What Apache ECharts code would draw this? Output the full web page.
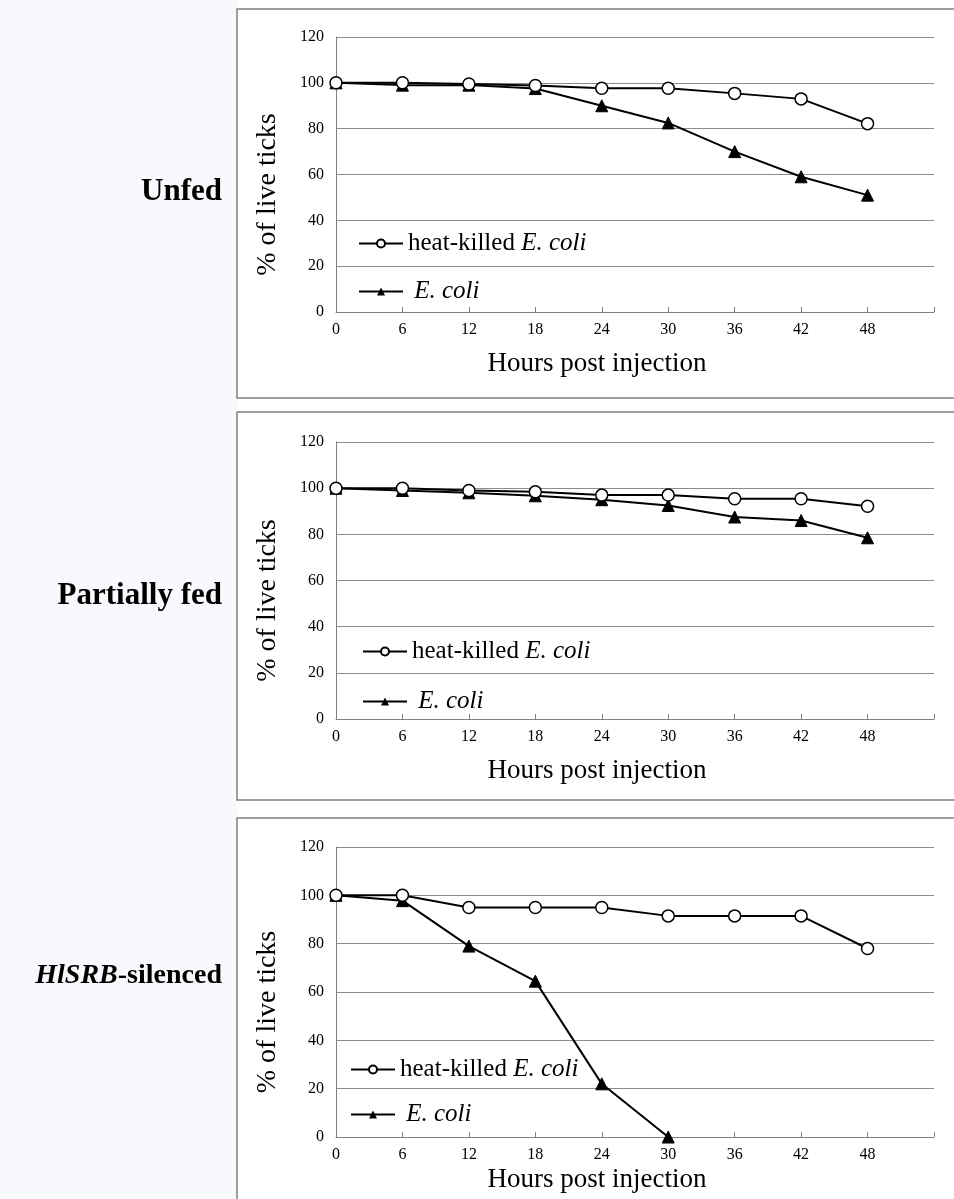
<!DOCTYPE html>
<html>
<head>
<meta charset="utf-8">
<script src="https://cdn.jsdelivr.net/npm/echarts@6/dist/echarts.min.js"></script>
<style>
html, body { margin: 0; padding: 0; background: #fff; }
#main { width: 954px; height: 1199px; }
</style>
</head>
<body>
<div id="main"></div>
<script>
// hours post injection
var hours = [0, 6, 12, 18, 24, 30, 36, 42, 48];
var hoursEcoliSilenced = [0, 6, 12, 18, 24, 30];
var yTicks = [0, 20, 40, 60, 80, 100, 120];

// % of live ticks
var unfedHeat = [100, 100, 99.5, 98.8, 97.6, 97.6, 95.4, 93, 82.2];
var unfedEcoli = [100, 99, 99, 97.5, 90, 82.5, 70, 59, 51];
var partialHeat = [100, 100, 99, 98.4, 97, 97, 95.4, 95.4, 92.2];
var partialEcoli = [100, 99, 98, 96.7, 95, 92.5, 87.5, 86, 78.5];
var silencedHeat = [100, 100, 95, 95, 95, 91.5, 91.5, 91.5, 78];
var silencedEcoli = [100, 97.8, 79, 64.5, 22, 0];

var nameHeat = 'heat-killed E. coli';
var nameEcoli = 'E. coli';
var serif = '"Liberation Serif", "DejaVu Serif", serif';

var panels = [
    { top: 37, height: 275, heat: unfedHeat, ecoli: unfedEcoli, ecoliX: hours, legendLeft: 353, legendTop: 226, legendGap: 23, xNameGap: 38 },
    { top: 442, height: 277, heat: partialHeat, ecoli: partialEcoli, ecoliX: hours, legendLeft: 357, legendTop: 634, legendGap: 25, xNameGap: 38 },
    { top: 847, height: 290, heat: silencedHeat, ecoli: silencedEcoli, ecoliX: hoursEcoliSilenced, legendLeft: 345, legendTop: 1052, legendGap: 20, xNameGap: 29 }
];

var zip = function (xs, ys) {
    return ys.map(function (v, i) { return [xs[i], v]; });
};

var option = {
    animation: false,
    backgroundColor: '#fff',
    grid: [],
    xAxis: [],
    yAxis: [],
    legend: [],
    series: [],
    graphic: []
};

panels.forEach(function (p, i) {
    option.grid.push({ left: 336, width: 598, top: p.top, height: p.height });
    option.xAxis.push({
        type: 'value', gridIndex: i, min: 0, max: 54, interval: 6,
        name: 'Hours post injection', nameLocation: 'middle', nameGap: p.xNameGap,
        nameTextStyle: { fontFamily: serif, fontSize: 27, color: '#000', padding: [0, 76, 0, 0] },
        axisLine: { show: true, lineStyle: { color: '#808080', width: 1 } },
        axisTick: { show: true, inside: true, length: 5, lineStyle: { color: '#808080' } },
        axisLabel: {
            fontFamily: serif, fontSize: 16, color: '#000', margin: 10,
            formatter: function (v) { return hours.indexOf(v) >= 0 ? String(v) : ''; }
        },
        splitLine: { show: false }
    });
    option.yAxis.push({
        type: 'value', gridIndex: i, min: yTicks[0], max: yTicks[yTicks.length - 1], interval: 20,
        name: '% of live ticks', nameLocation: 'middle', nameGap: 54,
        nameTextStyle: { fontFamily: serif, fontSize: 28, color: '#000', padding: [0, 40, 0, 0] },
        axisLine: { show: true, lineStyle: { color: '#808080', width: 1 } },
        axisTick: { show: false },
        axisLabel: { fontFamily: serif, fontSize: 16, color: '#000', margin: 12 },
        splitLine: { show: true, lineStyle: { color: '#8c8c8c', width: 1 } }
    });
    option.legend.push({
        orient: 'vertical', left: p.legendLeft, top: p.legendTop,
        itemWidth: 44, itemHeight: 10, itemGap: p.legendGap,
        data: [nameHeat, nameEcoli],
        textStyle: {
            fontFamily: serif, fontSize: 25, color: '#000',
            rich: { i: { fontFamily: serif, fontSize: 25, fontStyle: 'italic', color: '#000' } }
        },
        formatter: function (name) {
            return name === nameHeat ? 'heat-killed {i|E. coli}' : ' {i|E. coli}';
        }
    });
    option.series.push({
        name: nameHeat, type: 'line', xAxisIndex: i, yAxisIndex: i,
        data: zip(hours, p.heat),
        symbol: 'circle', symbolSize: 12,
        lineStyle: { color: '#000', width: 2 },
        itemStyle: { color: '#fff', borderColor: '#000', borderWidth: 1.5 },
        z: 3
    });
    option.series.push({
        name: nameEcoli, type: 'line', xAxisIndex: i, yAxisIndex: i,
        data: zip(p.ecoliX, p.ecoli),
        symbol: 'triangle', symbolSize: 12,
        lineStyle: { color: '#000', width: 2 },
        itemStyle: { color: '#000', borderColor: '#000' },
        z: 2
    });
});

// faint tint left of the frames
option.graphic.push({
    type: 'rect', silent: true, z: -2,
    shape: { x: 0, y: 0, width: 237, height: 1199 },
    style: { fill: '#f8f8fd' }
});

// panel frames
[[237, 9, 740, 389], [237, 412, 740, 388], [237, 818, 740, 400]].forEach(function (r) {
    option.graphic.push({
        type: 'rect', silent: true, z: -1,
        shape: { x: r[0], y: r[1], width: r[2], height: r[3] },
        style: { fill: 'none', stroke: '#7f7f7f', lineWidth: 1.5 }
    });
});

// row labels
var rowFont = 'bold 31px ' + serif;
option.graphic.push({
    type: 'text', x: 222, y: 192,
    style: { text: 'Unfed', font: rowFont, fill: '#000', align: 'right', verticalAlign: 'middle' }
});
option.graphic.push({
    type: 'text', x: 222, y: 596,
    style: { text: 'Partially fed', font: rowFont, fill: '#000', align: 'right', verticalAlign: 'middle' }
});
option.graphic.push({
    type: 'text', x: 222, y: 976,
    style: {
        text: '{bi|HlSRB}{b|-silenced}', fill: '#000', align: 'right', verticalAlign: 'middle',
        rich: {
            bi: { fontFamily: serif, fontSize: 28, fontWeight: 'bold', fontStyle: 'italic', fill: '#000' },
            b: { fontFamily: serif, fontSize: 28, fontWeight: 'bold', fill: '#000' }
        }
    }
});

var chart = echarts.init(document.getElementById('main'));
chart.setOption(option);
</script>
</body>
</html>
